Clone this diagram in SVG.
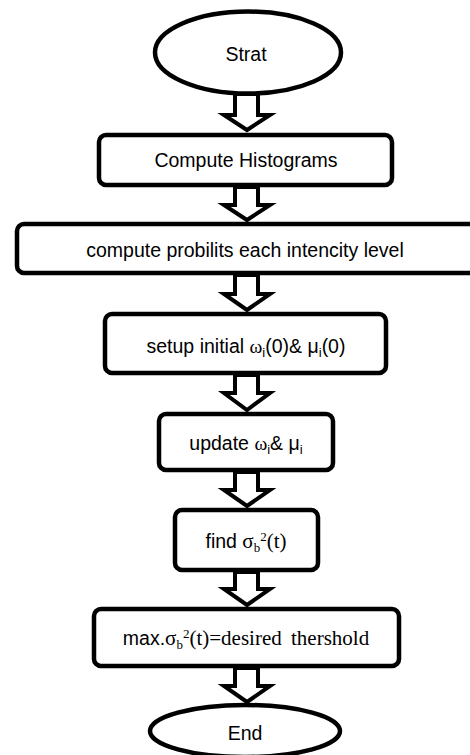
<svg xmlns="http://www.w3.org/2000/svg" width="470" height="755" viewBox="0 0 470 755">
<style>
.shape{fill:#ffffff;stroke:#000000;stroke-width:4.5}
.arrow{fill:#ffffff;stroke:#000000;stroke-width:4;stroke-linejoin:miter}
.t{font-family:"Liberation Sans",Arial,sans-serif;font-size:19.5px;fill:#000000;text-anchor:middle}
.s{font-family:"Liberation Serif","Times New Roman",serif;font-size:21px}
.sm{font-size:13px}
</style>
<rect width="470" height="755" fill="#ffffff"/>
<g id="start">
<ellipse class="shape" cx="248" cy="52.5" rx="93" ry="41"/>
<text class="t" x="246" y="61">Strat</text>
</g>
<g id="histograms">
<rect class="shape" x="99" y="135" width="293" height="50" rx="7"/>
<text class="t" x="246" y="167">Compute Histograms</text>
</g>
<g id="probabilities">
<rect class="shape" x="17" y="224" width="460" height="49" rx="7"/>
<text class="t" x="245" y="257">compute probilits each intencity level</text>
</g>
<g id="setup">
<rect class="shape" x="105" y="314" width="281" height="59" rx="7"/>
<text class="t" x="246" y="353">setup initial <tspan class="s" style="font-size:19.5px">ω</tspan><tspan class="sm" dy="4">i</tspan><tspan dy="-4">(0)&amp; μ</tspan><tspan class="sm" dy="4">i</tspan><tspan dy="-4">(0)</tspan></text>
</g>
<g id="update">
<rect class="shape" x="159" y="414" width="174" height="56" rx="7"/>
<text class="t" x="246" y="450">update <tspan class="s" style="font-size:19.5px">ω</tspan><tspan class="sm" dy="4">i</tspan><tspan dy="-4">&amp; μ</tspan><tspan class="sm" dy="4">i</tspan></text>
</g>
<g id="find">
<rect class="shape" x="175" y="510" width="143" height="60" rx="7"/>
<text class="t" x="246" y="548">find <tspan class="s">σ</tspan><tspan class="s sm" dy="4">b</tspan><tspan class="s sm" dy="-11">2</tspan><tspan class="s" dy="7">(t)</tspan></text>
</g>
<g id="threshold">
<rect class="shape" x="94" y="609" width="305" height="57" rx="7"/>
<text class="t" x="246" y="645">max.<tspan class="s">σ</tspan><tspan class="s sm" dy="4">b</tspan><tspan class="s sm" dy="-11">2</tspan><tspan class="s" dy="7" word-spacing="4">(t)=desired thershold</tspan></text>
</g>
<g id="end">
<ellipse class="shape" cx="245" cy="731" rx="95" ry="26"/>
<text class="t" x="245" y="740">End</text>
</g>
<g id="connectors">
<polygon class="arrow" points="235,94 258,94 258,115 270,115 247,130 224,115 235,115"/>
<polygon class="arrow" points="235,187 258,187 258,205 270,205 247,220 224,205 235,205"/>
<polygon class="arrow" points="235,275 258,275 258,294 270,294 247,310 224,294 235,294"/>
<polygon class="arrow" points="235,375 258,375 258,393 270,393 247,410 224,393 235,393"/>
<polygon class="arrow" points="235,472 258,472 258,490 270,490 247,506 224,490 235,490"/>
<polygon class="arrow" points="235,572 258,572 258,589 270,589 247,605 224,589 235,589"/>
<polygon class="arrow" points="235,668 258,668 258,686 270,686 247,702 224,686 235,686"/>
</g>
</svg>
